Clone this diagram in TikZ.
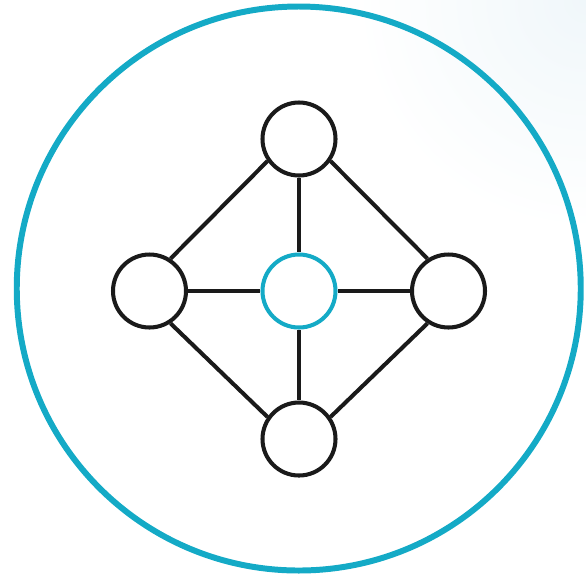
\documentclass[tikz,border=0pt]{standalone}
\usepackage{tikz}
\usetikzlibrary{positioning}

\definecolor{ringblue}{RGB}{20,170,198}
\definecolor{inkdark}{RGB}{26,26,26}
\definecolor{hazeblue}{RGB}{240,247,250}

\tikzset{
  peer/.style={circle, draw=inkdark, line width=1.15pt, minimum size=0.73cm, inner sep=0pt},
  hub/.style={peer, draw=ringblue},
  link/.style={draw=inkdark, line width=1.15pt}
}

\begin{document}
\begin{tikzpicture}[x=1cm,y=1cm]
    \useasboundingbox (0,0) rectangle (5.86,5.76);
    \path[clip] (0,0) rectangle (5.86,5.76);
    \shade[inner color=hazeblue, outer color=white] (5.86,5.76) circle (2.3);
    \draw[ringblue, line width=1.7pt] (2.9875,2.875) circle (2.82);

    \node[hub]  (ctr)   at (2.99,2.85) {};
    \node[peer] (top)   at (2.99,4.37)  {};
    \node[peer] (left)  at (1.495,2.85) {};
    \node[peer] (right) at (4.485,2.85) {};
    \node[peer] (bot)   at (2.99,1.37)  {};

    \draw[link] (top) -- (ctr);
    \draw[link] (ctr) -- (bot);
    \draw[link] (left) -- (ctr);
    \draw[link] (ctr) -- (right);
    \draw[link] (top.215) -- (left.57);
    \draw[link] (top.325) -- (right.123);
    \draw[link] (left.303) -- (bot.145);
    \draw[link] (right.237) -- (bot.35);
\end{tikzpicture}
\end{document}
